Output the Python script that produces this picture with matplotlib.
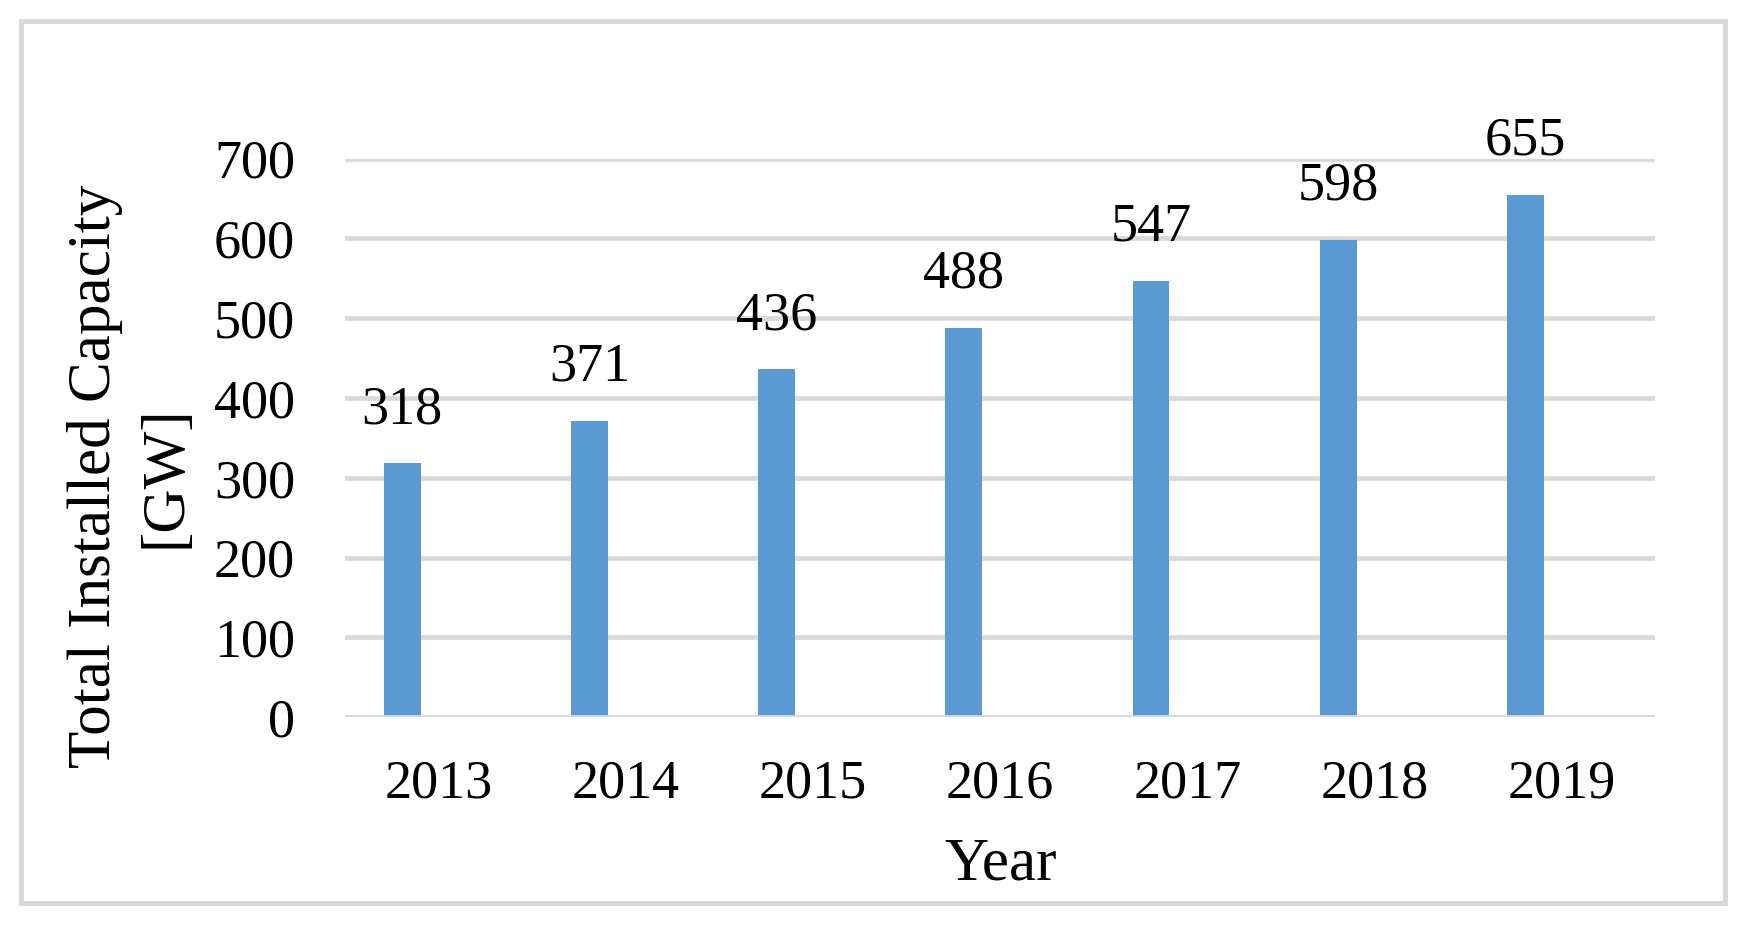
import matplotlib
matplotlib.use("Agg")
import matplotlib.pyplot as plt
from matplotlib.patches import Rectangle
import numpy as np

years = ["2013", "2014", "2015", "2016", "2017", "2018", "2019"]
capacity = [318, 371, 436, 488, 547, 598, 655]
y_ticks = [0, 100, 200, 300, 400, 500, 600, 700]

BAR = "#5B9BD5"
GRID = "#D9D9D9"
FONT = "Liberation Serif"

plt.rcParams["font.family"] = [FONT, "DejaVu Serif"]

fig = plt.figure(figsize=(17.48, 9.25), dpi=100)
fig.patch.set_facecolor("white")

W, H = 1748.0, 925.0
ax = fig.add_axes([345 / W, 1 - 717.2 / H, (1655.5 - 345) / W, (717.2 - 158.7) / H])

x = np.arange(len(years))
offset = -0.195
width = 0.197
ax.bar(x + offset, capacity, width=width, color=BAR, zorder=2)

for xi, v in zip(x, capacity):
    ax.annotate(str(v), (xi + offset, v), xytext=(0, 29), textcoords="offset points",
                ha="center", va="baseline", fontsize=39, color="black",
                annotation_clip=False)

ax.set_xlim(-0.5, len(years) - 0.5)
ax.set_ylim(0, 700)
ax.set_yticks(y_ticks)
ax.set_yticklabels([str(t) for t in y_ticks])
ax.set_xticks(x)
ax.set_xticklabels(years)

ax.grid(axis="y", color=GRID, linewidth=3.4, zorder=0)
ax.grid(axis="x", visible=False)
ax.set_axisbelow(True)
ax.axhline(0, color=GRID, linewidth=3.4, zorder=3)
for s in ax.spines.values():
    s.set_visible(False)
ax.tick_params(axis="both", length=0, labelsize=39, colors="black")
ax.tick_params(axis="y", pad=36)
ax.tick_params(axis="x", pad=30)

fig.text(130 / W, 1 - 476.5 / H, "Total Installed Capacity\n[GW]", rotation=90,
         ha="center", va="center", multialignment="center", fontsize=44,
         linespacing=1.35)
fig.text(1001 / W, 1 - 880 / H, "Year", ha="center", va="baseline", fontsize=44)

border = Rectangle((21 / W, 1 - 903.3 / H), (1724.7 - 21) / W, (903.3 - 20.7) / H,
                   transform=fig.transFigure, fill=False, edgecolor=GRID,
                   linewidth=3.6, zorder=0)
fig.patches.append(border)

fig.savefig("out.png", dpi=100, facecolor="white")
